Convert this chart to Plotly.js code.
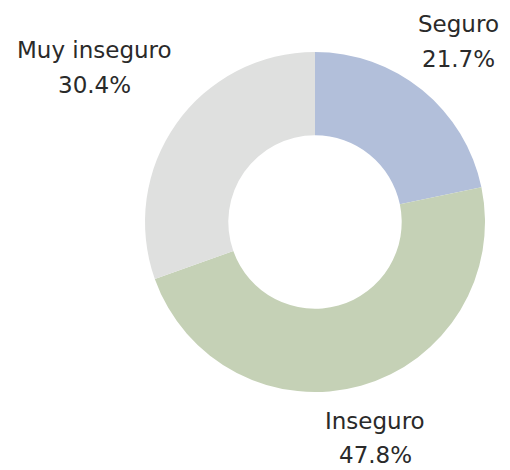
<!DOCTYPE html>
<html>
<head>
<meta charset="utf-8">
<script src="https://cdn.plot.ly/plotly-3.0.1.min.js"></script>
<style>html,body{margin:0;padding:0;background:#fff;}#chart{width:510px;height:470px;}</style>
</head>
<body>
<div id="chart"></div>
<script>
var categories = ["Seguro", "Inseguro", "Muy inseguro"];
var values = [21.7, 47.8, 30.4];
var colors = ["#b2bfda", "#c5d1b6", "#dfe0df"];

// label anchor positions in pixels (centre x, name line y, value line y)
var labelPos = [
  {x: 458, y1: 24, y2: 59},
  {x: 375, y1: 421, y2: 455},
  {x: 94, y1: 50, y2: 85}
];

var annotations = [];
categories.forEach(function (c, i) {
  var lines = [c, values[i].toFixed(1) + "%"];
  var ys = [labelPos[i].y1, labelPos[i].y2];
  lines.forEach(function (t, k) {
    annotations.push({
      text: t,
      x: labelPos[i].x / 510,
      y: 1 - ys[k] / 470,
      xref: "paper", yref: "paper",
      xanchor: "center", yanchor: "middle",
      showarrow: false,
      font: {family: "DejaVu Sans", size: 23, color: "#2a2a2a"}
    });
  });
});

var data = [{
  type: "pie",
  labels: categories,
  values: values,
  hole: 0.51,
  sort: false,
  direction: "clockwise",
  rotation: 0,
  marker: {colors: colors, line: {width: 0}},
  textinfo: "none",
  hoverinfo: "label+percent",
  domain: {x: [145 / 510, 485 / 510], y: [1 - 392 / 470, 1 - 52 / 470]}
}];

var layout = {
  width: 510, height: 470,
  margin: {l: 0, r: 0, t: 0, b: 0},
  showlegend: false,
  paper_bgcolor: "#fff",
  annotations: annotations
};

Plotly.newPlot("chart", data, layout, {displayModeBar: false, staticPlot: true});
</script>
</body>
</html>
